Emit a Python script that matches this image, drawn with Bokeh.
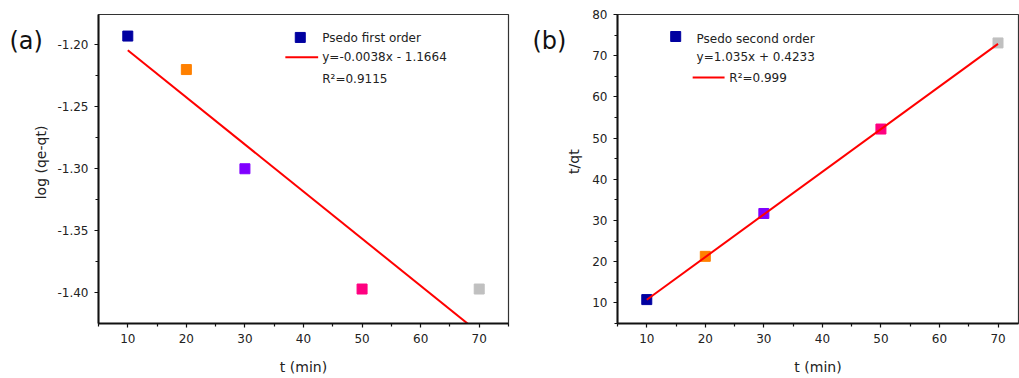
import math
from bokeh.plotting import figure
from bokeh.layouts import row
from bokeh.models import Range1d, Label, FixedTicker, NumeralTickFormatter
from bokeh.core.properties import value
from bokeh.embed import file_html
from bokeh.resources import INLINE

# ---- data ----
t_min = [10, 20, 30, 50, 70]
colors = ["#0000A0", "#FF8000", "#8000FF", "#FF0080", "#C0C0C0"]
log_qe_qt = [-1.193, -1.220, -1.300, -1.397, -1.397]
t_over_qt = [10.8, 21.3, 31.7, 52.2, 73.1]
fit1_slope, fit1_int = -0.0038, -1.1664
fit2_slope, fit2_int = 1.035, 0.4233
fit_x = [10, 70]
x_ticks = [10, 20, 30, 40, 50, 60, 70]
y1_ticks = [-1.40, -1.35, -1.30, -1.25, -1.20]
y2_ticks = [10, 20, 30, 40, 50, 60, 70, 80]

FONT = "DejaVu Sans"
H = 378


def side_panel(width, tag, tag_x, ylabel, ylabel_x, ylabel_y):
    """Narrow text-only panel holding the panel tag and the rotated y-axis title."""
    s = figure(width=width, height=H, output_backend="svg", toolbar_location=None,
               x_range=Range1d(0, width), y_range=Range1d(H, 0),
               x_axis_type=None, y_axis_type=None,
               min_border_left=0, min_border_right=0, min_border_top=0, min_border_bottom=0)
    s.outline_line_color = None
    s.xgrid.visible = False
    s.ygrid.visible = False
    s.border_fill_color = "white"
    s.text(x=[tag_x], y=[32], text=[tag], text_font=value(FONT), text_font_size=value("24px"),
           text_color="#111111", text_baseline="middle", text_align="left")
    s.text(x=[ylabel_x], y=[ylabel_y], text=[ylabel], angle=math.pi / 2,
           text_font=value(FONT), text_font_size=value("14px"),
           text_color="#222222", text_baseline="middle", text_align="center")
    return s


def style(p, xlabel):
    p.outline_line_color = "#333333"
    p.outline_line_width = 1.2
    p.xgrid.visible = False
    p.ygrid.visible = False
    p.background_fill_color = "white"
    p.border_fill_color = "white"
    for ax in (p.xaxis[0], p.yaxis[0]):
        ax.axis_line_width = 2
        ax.axis_line_color = "#111111"
        ax.major_tick_line_color = "#111111"
        ax.minor_tick_line_color = "#111111"
        ax.major_tick_line_width = 1.2
        ax.minor_tick_line_width = 1.2
        ax.major_tick_in = 0
        ax.major_tick_out = 4
        ax.minor_tick_in = 0
        ax.minor_tick_out = 3
        ax.major_label_text_font = FONT
        ax.major_label_text_font_size = "12px"
        ax.major_label_text_color = "#222222"
        ax.axis_label_text_font = FONT
        ax.axis_label_text_font_size = "14px"
        ax.axis_label_text_font_style = "normal"
        ax.axis_label_text_color = "#222222"
    p.xaxis[0].axis_label = xlabel
    p.xaxis[0].major_label_standoff = 6
    p.xaxis[0].axis_label_standoff = 13
    p.yaxis[0].major_label_standoff = 6


# ---- panel (a) ----
sa = side_panel(50, "(a)", 9, "log (qe-qt)", 40, 181)
pa = figure(width=460, height=H, output_backend="svg", toolbar_location=None,
            x_range=Range1d(5, 75), y_range=Range1d(-1.4248, -1.1756),
            min_border_left=48, min_border_right=2, min_border_top=14, min_border_bottom=55)
style(pa, "t (min)")
pa.xaxis[0].ticker = FixedTicker(ticks=x_ticks, minor_ticks=[5, 15, 25, 35, 45, 55, 65, 75])
pa.yaxis[0].ticker = FixedTicker(ticks=y1_ticks, minor_ticks=[-1.425, -1.375, -1.325, -1.275, -1.225, -1.175])
pa.yaxis[0].formatter = NumeralTickFormatter(format="0.00")

fit1_y = [fit1_slope * x + fit1_int for x in fit_x]
pa.line(fit_x, fit1_y, line_color="#FF0000", line_width=2)
pa.scatter(t_min, log_qe_qt, marker="square", size=10, fill_color=colors, line_color=colors)

# legend (a)
pa.scatter([39.45], [-1.1941], marker="square", size=10, fill_color=colors[0], line_color=colors[0])
pa.line([36.9, 42.5], [-1.2100, -1.2100], line_color="#FF0000", line_width=2)
for txt, yy in [("Psedo first order", -1.1949), ("y=-0.0038x - 1.1664", -1.2102), ("R²=0.9115", -1.2280)]:
    pa.add_layout(Label(x=43.2, y=yy, text=txt, text_font=FONT, text_font_size="12px",
                        text_color="#222222", text_baseline="middle"))

# ---- panel (b) ----
sb = side_panel(75, "(b)", 22, "t/qt", 63, 180)
pb = figure(width=434, height=H, output_backend="svg", toolbar_location=None,
            x_range=Range1d(5, 73.5), y_range=Range1d(5, 80),
            min_border_left=32, min_border_right=1, min_border_top=14, min_border_bottom=55)
style(pb, "t (min)")
pb.xaxis[0].ticker = FixedTicker(ticks=x_ticks, minor_ticks=[5, 15, 25, 35, 45, 55, 65, 75])
pb.yaxis[0].ticker = FixedTicker(ticks=y2_ticks, minor_ticks=[5, 15, 25, 35, 45, 55, 65, 75])

fit2_y = [fit2_slope * x + fit2_int for x in fit_x]
pb.scatter(t_min, t_over_qt, marker="square", size=10, fill_color=colors, line_color=colors)
pb.line(fit_x, fit2_y, line_color="#FF0000", line_width=2)

# legend (b)
pb.scatter([14.94], [74.66], marker="square", size=10, fill_color=colors[0], line_color=colors[0])
pb.line([17.84, 23.29], [64.7, 64.7], line_color="#FF0000", line_width=2)
for txt, xx, yy in [("Psedo second order", 18.5, 74.17), ("y=1.035x + 0.4233", 18.5, 69.8), ("R²=0.999", 24.1, 64.5)]:
    pb.add_layout(Label(x=xx, y=yy, text=txt, text_font=FONT, text_font_size="12px",
                        text_color="#222222", text_baseline="middle"))

layout = row(sa, pa, sb, pb, spacing=0)
open("out.html", "w").write(file_html(layout, INLINE))
